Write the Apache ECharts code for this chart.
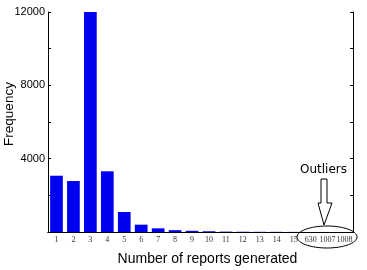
<!DOCTYPE html>
<html>
<head>
<meta charset="utf-8">
<script src="https://cdn.jsdelivr.net/npm/echarts@6/dist/echarts.min.js"></script>
<style>html,body{margin:0;padding:0;background:#fff}#c{width:367px;height:270px}</style>
</head>
<body>
<div id="c"></div>
<script>
var categories = ['1','2','3','4','5','6','7','8','9','10','11','12','13','14','15','630','1007','1008'];
var frequency = [3070, 2780, 12000, 3310, 1090, 400, 200, 100, 65, 40, 20, 14, 10, 8, 5, 1, 1, 1];
var yTicks = [4000, 8000, 12000];

var chart = echarts.init(document.getElementById('c'), null, {renderer: 'canvas'});
var axisLineStyle = {color: '#000', width: 1};
chart.setOption({
  animation: false,
  backgroundColor: '#fff',
  grid: {left: 48, right: 14, top: 12, bottom: 38, containLabel: false, outerBoundsMode: 'none'},
  xAxis: [{
    type: 'category', data: categories, position: 'bottom',
    axisLine: {lineStyle: axisLineStyle},
    axisTick: {inside: true, alignWithLabel: true, length: 3, lineStyle: {color: '#000'}},
    axisLabel: {interval: 0, fontFamily: 'Liberation Serif', fontSize: 8, color: '#333', margin: 4},
    name: 'Number of reports generated', nameLocation: 'middle', nameGap: 20, nameMoveOverlap: false,
    nameTextStyle: {fontFamily: 'Liberation Sans', fontSize: 14, color: '#000', padding: [0, 0, 0, 14]}
  }, {
    type: 'category', data: categories, position: 'top',
    axisLine: {lineStyle: axisLineStyle},
    axisTick: {inside: true, alignWithLabel: true, length: 3, lineStyle: {color: '#000'}},
    axisLabel: {show: false}
  }],
  yAxis: [{
    type: 'value', min: 0, max: 12000, interval: 2000, position: 'left',
    axisLine: {show: true, lineStyle: axisLineStyle},
    axisTick: {show: true, inside: true, length: 3, lineStyle: {color: '#000'}},
    splitLine: {show: false},
    axisLabel: {
      fontFamily: 'Liberation Sans', fontSize: 11, color: '#000', margin: 3,
      formatter: function (v) { return yTicks.indexOf(v) >= 0 ? String(v) : ''; }
    },
    name: 'Frequency', nameLocation: 'middle', nameGap: 32, nameRotate: 90, nameMoveOverlap: false,
    nameTextStyle: {fontFamily: 'Liberation Sans', fontSize: 13.5, color: '#000', padding: [0, 0, 0, 16]}
  }, {
    type: 'value', min: 0, max: 12000, interval: 2000, position: 'right',
    axisLine: {show: true, lineStyle: axisLineStyle},
    axisTick: {show: true, inside: true, length: 3, lineStyle: {color: '#000'}},
    splitLine: {show: false},
    axisLabel: {show: false}
  }],
  series: [{
    type: 'bar', data: frequency, xAxisIndex: 0, yAxisIndex: 0,
    barCategoryGap: '25%',
    itemStyle: {color: '#0000f0'}
  }],
  graphic: [
    {type: 'text', left: 300, top: 164, style: {text: 'Outliers', font: '12px "DejaVu Sans"', fill: '#000'}},
    {type: 'polygon', shape: {points: [[321,179],[327,179],[327,203],[332,203],[324,225],[318,203],[321,203]]},
     style: {fill: '#fff', stroke: '#000', lineWidth: 1}},
    {type: 'ellipse', shape: {cx: 327, cy: 237, rx: 30, ry: 11}, style: {fill: 'none', stroke: '#000', lineWidth: 1}}
  ]
});
</script>
</body>
</html>
